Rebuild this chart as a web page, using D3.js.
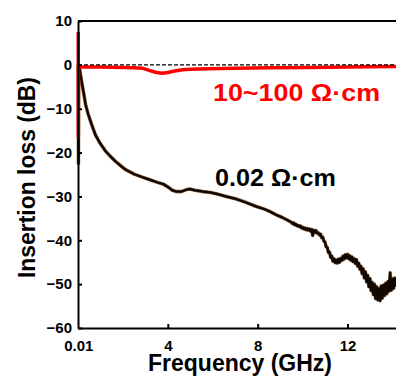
<!DOCTYPE html>
<html>
<head>
<meta charset="utf-8">
<script src="https://cdn.jsdelivr.net/npm/d3@7"></script>
<style>
  body { margin: 0; background: #fff; }
  svg { display: block; font-family: Arial, "Liberation Sans", sans-serif; font-weight: bold; }
</style>
</head>
<body>
<svg width="396" height="376"></svg>
<script>
// frequency (GHz) / insertion loss (dB) pairs
const lowResistivity = [
  [0.01, 0], [0.02, -22.5], [0.03, -0.8], [0.06, -0.5], [0.12, -2.5], [0.19, -4.6],
  [0.27, -7], [0.34, -9.1], [0.45, -11.2], [0.56, -12.9], [0.67, -14.5], [0.78, -16],
  [1.0, -18], [1.23, -19.7], [1.45, -20.9], [1.67, -22], [1.9, -23], [2.12, -23.9],
  [2.5, -24.9], [2.86, -25.6], [3.2, -26.2], [3.6, -26.9], [3.8, -27.2], [4.05, -28],
  [4.2, -28.6], [4.38, -28.9], [4.6, -28.9], [4.8, -28.5], [4.97, -28.3], [5.2, -28.6],
  [5.56, -28.9], [5.9, -29.1], [6.16, -29.4], [6.6, -30], [7.05, -30.6], [7.5, -31.4],
  [7.94, -32.3], [8.3, -32.9], [8.53, -33.4], [8.83, -34.2], [9.1, -34.8], [9.43, -35.7],
  [9.5, -35.9], [9.55, -36.2], [9.6, -36.0], [9.65, -36.5], [9.7, -36.3], [9.75, -36.7],
  [9.8, -36.6], [9.85, -36.9], [9.9, -36.7], [9.95, -37.2], [10.0, -37.0], [10.05, -37.4],
  [10.1, -37.2], [10.15, -37.6], [10.2, -37.3], [10.25, -37.7], [10.3, -37.4], [10.35, -37.9],
  [10.4, -37.5], [10.45, -38.9], [10.5, -37.7], [10.55, -38.2], [10.6, -37.8], [10.65, -38.4],
  [10.7, -38.3], [10.75, -38.8], [10.8, -38.6], [10.85, -39.4], [10.9, -39.3], [10.95, -40.2],
  [11.0, -40.4], [11.05, -41.5], [11.1, -41.6], [11.15, -42.8], [11.2, -42.7], [11.25, -43.9],
  [11.3, -43.6], [11.35, -44.8], [11.4, -44.2], [11.45, -45.1], [11.5, -44.5], [11.55, -45.2],
  [11.6, -44.3], [11.65, -45.0], [11.7, -44.1], [11.75, -44.6], [11.8, -43.6], [11.85, -44.3],
  [11.9, -43.3], [11.95, -44.0], [12.0, -43.2], [12.05, -44.2], [12.1, -43.5], [12.15, -44.6],
  [12.2, -43.8], [12.25, -44.9], [12.3, -44.2], [12.35, -45.3], [12.4, -44.4], [12.45, -45.9],
  [12.5, -45.2], [12.55, -46.6], [12.6, -45.9], [12.65, -47.6], [12.7, -46.5], [12.75, -48.6],
  [12.8, -47.2], [12.85, -49.5], [12.9, -48.0], [12.95, -50.6], [13.0, -48.7], [13.05, -51.5],
  [13.1, -49.6], [13.15, -52.4], [13.2, -50.0], [13.25, -53.3], [13.3, -50.6], [13.35, -53.6],
  [13.4, -51.0], [13.45, -53.8], [13.5, -50.4], [13.55, -53.2], [13.6, -50.2], [13.65, -52.6],
  [13.7, -49.8], [13.75, -52.2], [13.8, -49.4], [13.85, -51.6], [13.9, -47.4], [13.95, -51.4],
  [14.0, -48.8], [14.05, -51.0], [14.1, -48.6], [14.15, -50.6]
];

const highResistivity = [
  [0.01, 7.5], [0.015, -16.5], [0.02, -0.3], [0.1, -0.5], [0.5, -0.5], [1.0, -0.5],
  [1.5, -0.55], [2.0, -0.6], [2.5, -0.65], [2.86, -0.75], [3.2, -1.3], [3.5, -1.75],
  [3.75, -1.9], [4.0, -1.75], [4.3, -1.4], [4.65, -1.1], [5.0, -1.0], [5.8, -0.9],
  [7.0, -0.75], [8.5, -0.65], [10.3, -0.6], [12.0, -0.5], [14.0, -0.4], [14.16, -0.4]
];

const xTicks = [0.01, 4, 8, 12];
const xTickLabels = ['0.01', '4', '8', '12'];
const yTicks = [-60, -50, -40, -30, -20, -10, 0, 10];

const svg = d3.select('svg');

const x = d3.scaleLinear().domain([0, 14.16]).range([78, 396]);
const y = d3.scaleLinear().domain([-60, 10]).range([328, 21]);

// top frame
svg.append('line')
  .attr('x1', x(0)).attr('x2', x(14.16))
  .attr('y1', y(10)).attr('y2', y(10))
  .attr('stroke', '#000').attr('stroke-width', 2);

const line = d3.line().x((d) => x(d[0])).y((d) => y(d[1]));

// black curve with a brownish halo
svg.append('path')
  .datum(lowResistivity)
  .attr('d', line)
  .attr('fill', 'none')
  .attr('stroke', '#8a5a30')
  .attr('stroke-width', 3.6)
  .attr('stroke-linejoin', 'round')
  .attr('opacity', 0.8);

svg.append('path')
  .datum(lowResistivity)
  .attr('d', line)
  .attr('fill', 'none')
  .attr('stroke', '#120800')
  .attr('stroke-width', 2.5)
  .attr('stroke-linejoin', 'round');

svg.append('path')
  .datum(highResistivity)
  .attr('d', line)
  .attr('fill', 'none')
  .attr('stroke', '#ff0000')
  .attr('stroke-width', 3.5)
  .attr('stroke-linejoin', 'round');

// 0 dB reference
svg.append('line')
  .attr('x1', x(0)).attr('x2', x(14.16))
  .attr('y1', y(0)).attr('y2', y(0))
  .attr('stroke', '#000')
  .attr('stroke-width', 1.3)
  .attr('stroke-dasharray', '4,2');

// axes
const xAxis = svg.append('g')
  .attr('transform', `translate(0,${y(-60)})`)
  .call(d3.axisBottom(x).tickValues(xTicks)
    .tickFormat((d, i) => xTickLabels[i])
    .tickSizeInner(-4).tickSizeOuter(0).tickPadding(12));

const yAxis = svg.append('g')
  .attr('transform', `translate(${x(0)},0)`)
  .call(d3.axisLeft(y).tickValues(yTicks)
    .tickSizeInner(-4).tickSizeOuter(0).tickPadding(6));

[xAxis, yAxis].forEach((a) => {
  a.select('.domain').attr('stroke-width', 2);
  a.selectAll('.tick line').attr('stroke-width', 2);
  a.selectAll('.tick text')
    .attr('font-size', 15)
    .attr('font-weight', 'bold')
    .attr('font-family', 'Arial, "Liberation Sans", sans-serif')
    .attr('fill', '#000');
});
xAxis.selectAll('.tick').filter((d) => d === 0.01).select('line').remove();

// axis titles
svg.append('text')
  .attr('x', 240).attr('y', 371)
  .attr('text-anchor', 'middle')
  .attr('font-size', 23)
  .attr('textLength', 184).attr('lengthAdjust', 'spacingAndGlyphs')
  .text('Frequency (GHz)');

svg.append('text')
  .attr('transform', 'translate(35,177.5) rotate(-90)')
  .attr('text-anchor', 'middle')
  .attr('font-size', 23)
  .attr('textLength', 201).attr('lengthAdjust', 'spacingAndGlyphs')
  .text('Insertion loss (dB)');

// annotations
svg.append('text')
  .attr('x', 213).attr('y', 101)
  .attr('font-size', 24)
  .attr('fill', '#ff0000')
  .attr('textLength', 167).attr('lengthAdjust', 'spacingAndGlyphs')
  .text('10~100 Ω·cm');

svg.append('text')
  .attr('x', 215).attr('y', 186)
  .attr('font-size', 23)
  .attr('fill', '#000')
  .attr('textLength', 121).attr('lengthAdjust', 'spacingAndGlyphs')
  .text('0.02 Ω·cm');
</script>
</body>
</html>
